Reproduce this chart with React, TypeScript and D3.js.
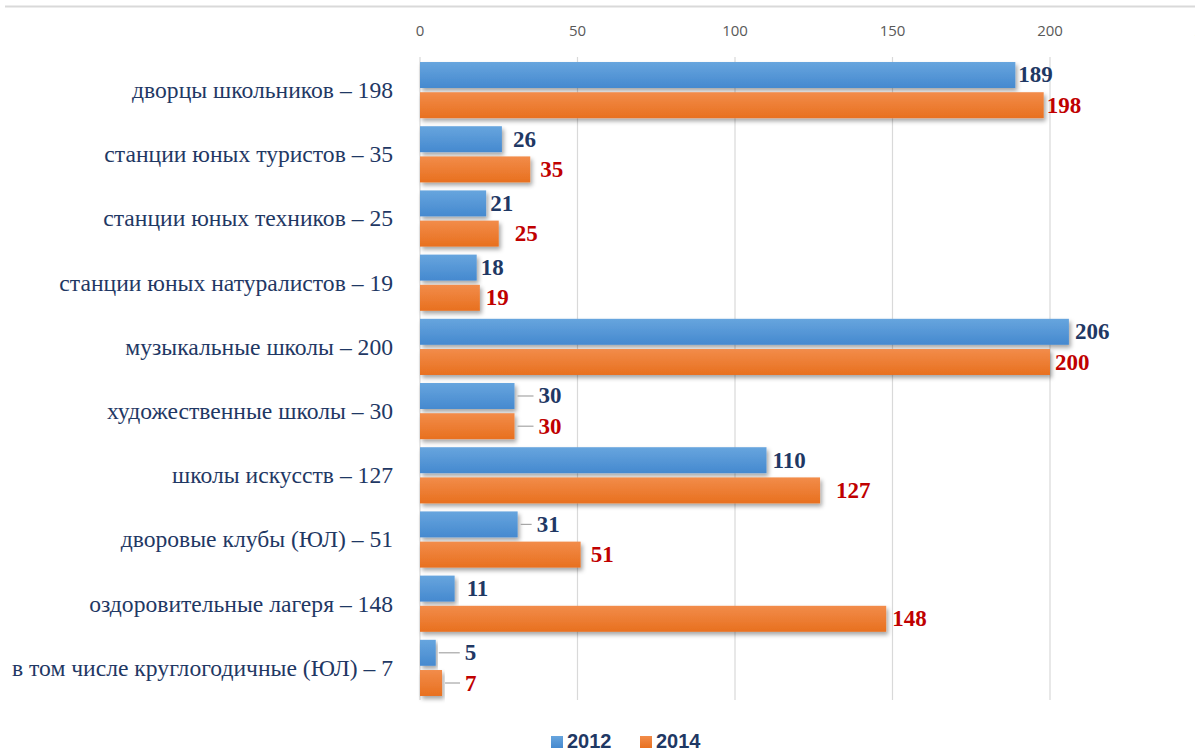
import React from "react";
import * as d3 from "d3";

const categories = [
  "дворцы школьников – 198",
  "станции юных туристов – 35",
  "станции юных техников – 25",
  "станции юных натуралистов – 19",
  "музыкальные школы – 200",
  "художественные школы – 30",
  "школы искусств – 127",
  "дворовые клубы (ЮЛ) – 51",
  "оздоровительные лагеря – 148",
  "в том числе круглогодичные (ЮЛ) – 7",
];
const values2012 = [189, 26, 21, 18, 206, 30, 110, 31, 11, 5];
const values2014 = [198, 35, 25, 19, 200, 30, 127, 51, 148, 7];
const seriesNames = ["2012", "2014"];
const xTicks = [0, 50, 100, 150, 200, 250];

// layout: extra label offsets (px) as placed in the original
const nudge2012 = [-1, 7, 0, 0, 2, 20, 2, 15, 8, 25];
const nudge2014 = [-1, 6, 12, 2, 1, 20, 12, 6, 2, 19];

const W = 1195;
const H = 752;
const SERIF = "'Liberation Serif', 'Times New Roman', serif";

export default function App() {
  const x = d3.scaleLinear().domain([0, 200]).range([420, 1050]);
  const y = d3
    .scaleBand<string>()
    .domain(categories)
    .range([58, 700])
    .paddingInner(0.125)
    .paddingOuter(0.0625);
  const ys = d3
    .scaleBand<string>()
    .domain(seriesNames)
    .range([0, y.bandwidth()])
    .paddingInner(0.14);

  const series = [
    { name: "2012", values: values2012, nudge: nudge2012, grad: "gBlue", text: "#1f3864" },
    { name: "2014", values: values2014, nudge: nudge2014, grad: "gOrange", text: "#c00000" },
  ];

  return (
    <svg
      width={W}
      height={H}
      style={{ position: "absolute", left: 0, top: 0, background: "#fff" }}
    >
      <defs>
        <linearGradient id="gBlue" x1="0" y1="0" x2="0" y2="1">
          <stop offset="0%" stopColor="#67a5de" />
          <stop offset="100%" stopColor="#4589cf" />
        </linearGradient>
        <linearGradient id="gOrange" x1="0" y1="0" x2="0" y2="1">
          <stop offset="0%" stopColor="#f28c4a" />
          <stop offset="100%" stopColor="#e8701f" />
        </linearGradient>
        <filter id="shadow" x="-5%" y="-30%" width="115%" height="190%">
          <feDropShadow dx="2" dy="3" stdDeviation="2" floodColor="#000" floodOpacity="0.35" />
        </filter>
      </defs>

      <line x1={5} x2={W} y1={6.5} y2={6.5} stroke="#d9d9d9" strokeWidth={2} />

      {xTicks.map((t) => (
        <g key={t}>
          <line x1={x(t)} x2={x(t)} y1={57} y2={700} stroke="#d9d9d9" strokeWidth={1.2} />
          <text
            x={x(t)}
            y={30}
            textAnchor="middle"
            dominantBaseline="central"
            fontFamily="'Open Sans', sans-serif"
            fontSize={15}
            fill="#595959"
          >
            {t}
          </text>
        </g>
      ))}

      {categories.map((c) => (
        <g
          key={c}
          transform={`translate(393,${(y(c) as number) + y.bandwidth() / 2}) scale(1.05,1)`}
        >
          <text
            x={0}
            y={0}
            textAnchor="end"
            dominantBaseline="central"
            fontFamily={SERIF}
            fontSize={22.5}
            fill="#1f3864"
          >
            {c}
          </text>
        </g>
      ))}

      {series.map((s) =>
        categories.map((c, i) => {
          const top = (y(c) as number) + (ys(s.name) as number);
          const h = ys.bandwidth();
          const end = x(s.values[i]);
          const lx = end + 4 + s.nudge[i];
          const cy = top + h / 2;
          return (
            <g key={s.name + c}>
              <rect
                x={x(0)}
                y={top}
                width={end - x(0)}
                height={h}
                fill={`url(#${s.grad})`}
                filter="url(#shadow)"
              />
              {s.nudge[i] >= 14 && (
                <line x1={end + 3} x2={lx - 5} y1={cy} y2={cy} stroke="#a6a6a6" strokeWidth={1.2} />
              )}
              <text
                x={lx}
                y={cy}
                dominantBaseline="central"
                fontFamily={SERIF}
                fontWeight="bold"
                fontSize={23}
                fill={s.text}
              >
                {s.values[i]}
              </text>
            </g>
          );
        })
      )}

      {series.map((s, k) => (
        <g key={"lg" + s.name} transform={`translate(${551 + k * 89},0)`}>
          <rect x={0} y={736} width={12} height={12} fill={`url(#${s.grad})`} />
          <text
            x={16}
            y={741}
            dominantBaseline="central"
            fontFamily="'Liberation Sans', Arial, sans-serif"
            fontWeight="bold"
            fontSize={20}
            fill="#1f3864"
          >
            {s.name}
          </text>
        </g>
      ))}
    </svg>
  );
}
